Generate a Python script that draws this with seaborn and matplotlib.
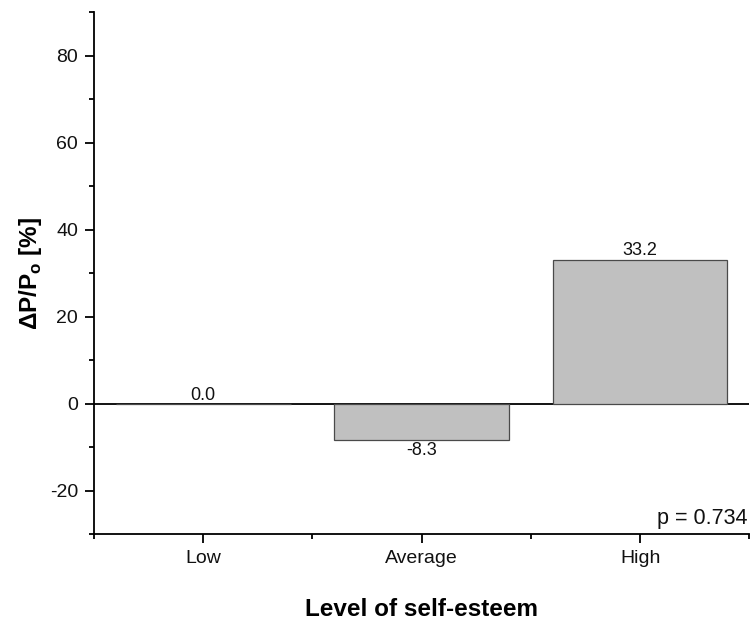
import numpy as np
import pandas as pd
import matplotlib
matplotlib.use('Agg')
import matplotlib.pyplot as plt
from matplotlib.ticker import FixedLocator
import seaborn as sns

# Data
levels = ['Low', 'Average', 'High']
change_pct = [0.0, -8.3, 33.2]
value_labels = ['0.0', '-8.3', '33.2']
p_text = 'p = 0.734'

df = pd.DataFrame({'level': levels, 'change': change_pct})

sns.set_theme(style='ticks')
plt.rcParams['font.family'] = ['Liberation Sans', 'DejaVu Sans']
plt.rcParams['mathtext.fontset'] = 'custom'
plt.rcParams['mathtext.rm'] = 'Liberation Sans'
plt.rcParams['mathtext.bf'] = 'Liberation Sans:bold'
plt.rcParams['axes.unicode_minus'] = False
plt.rcParams['text.color'] = 'black'
plt.rcParams['axes.labelcolor'] = 'black'

fig = plt.figure(figsize=(7.52, 6.26), dpi=100)
ax = fig.add_axes([0.125, 0.1462, 0.8714, 0.8339])

ax.axhline(0, color='black', lw=1.3, zorder=1)

sns.barplot(data=df, x='level', y='change', order=levels, color='#c0c0c0',
            edgecolor='#4a4a4a', linewidth=0.9, width=0.8, saturation=1,
            errorbar=None, ax=ax, zorder=2)

# value labels above (positive/zero) or below (negative) each bar
for i, (v, lab) in enumerate(zip(change_pct, value_labels)):
    if v >= 0:
        ax.annotate(lab, (i, v), xytext=(0, 3), textcoords='offset points',
                    ha='center', va='baseline', fontsize=13, color='#111111')
    else:
        ax.annotate(lab, (i, v), xytext=(0, -1.5), textcoords='offset points',
                    ha='center', va='top', fontsize=13, color='#111111')

ax.text(0.998, 0.021, p_text, transform=ax.transAxes, ha='right',
        va='baseline', fontsize=15.5, color='#111111')

ax.set_xlim(-0.5, 2.5)
ax.set_ylim(-30, 90)
ax.yaxis.set_major_locator(FixedLocator([-20, 0, 20, 40, 60, 80]))
ax.yaxis.set_minor_locator(FixedLocator([-30, -10, 10, 30, 50, 70, 90]))
ax.xaxis.set_minor_locator(FixedLocator([-0.5, 0.5, 1.5, 2.5]))

sns.despine(ax=ax)
for s in ['left', 'bottom']:
    ax.spines[s].set_linewidth(1.3)
    ax.spines[s].set_color('black')

ax.tick_params(which='major', length=6.5, width=1.3, color='black',
               labelsize=14, pad=5, labelcolor='#111111')
ax.tick_params(which='minor', length=3.6, width=1.3, color='black')

ax.set_xlabel('Level of self-esteem', fontsize=17.5, fontweight='bold',
              labelpad=22)
ax.set_ylabel(r'ΔP/P$_\mathbf{o}$ [%]', fontsize=17.5, fontweight='bold',
              labelpad=4)

fig.savefig('out.png', dpi=100)
